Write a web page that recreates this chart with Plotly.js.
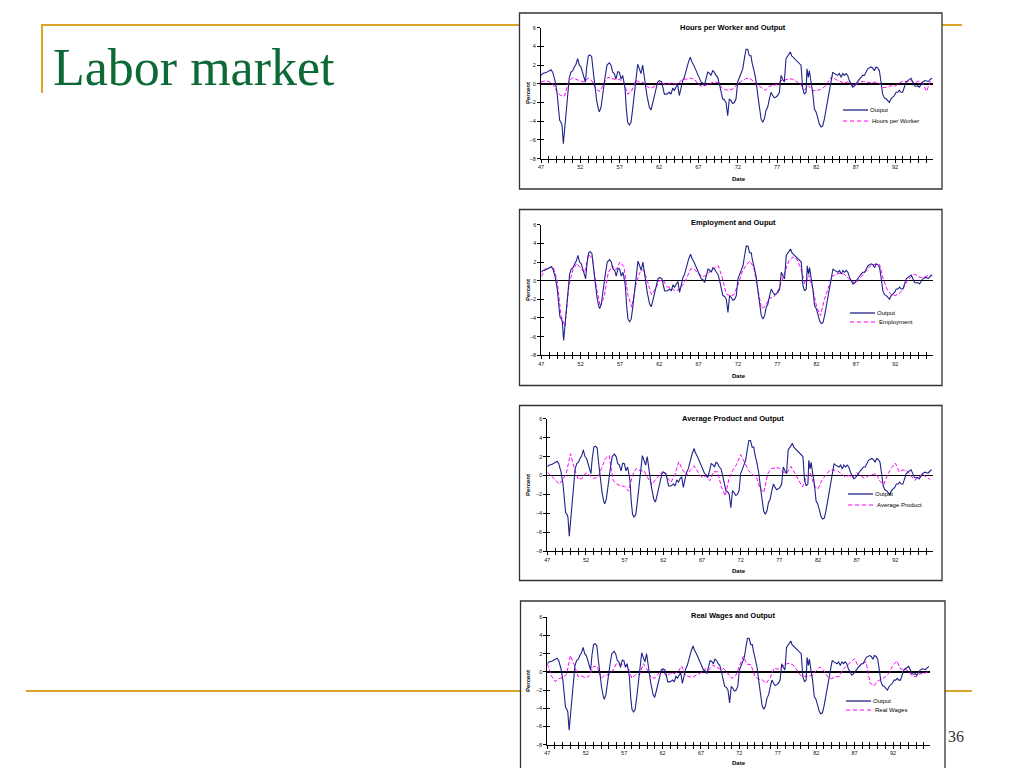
<!DOCTYPE html>
<html>
<head>
<meta charset="utf-8">
<script src="https://cdn.plot.ly/plotly-3.0.1.min.js"></script>
<style>
  html, body { margin: 0; padding: 0; background: #ffffff; }
  #chart { width: 1024px; height: 768px; }
</style>
</head>
<body>
<div id="chart"></div>
<script>
// ---------------- DATA ----------------
// Output: percent deviation from trend (shared by all four panels)
const outputYears = [1947.00,1947.21,1947.64,1948.06,1948.27,1948.48,1948.78,1949.03,1949.20,1949.37,1949.54,1949.67,1949.84,1950.05,1950.39,1950.60,1950.81,1951.03,1951.24,1951.45,1951.66,1951.87,1952.08,1952.30,1952.51,1952.64,1952.81,1953.02,1953.23,1953.44,1953.65,1953.86,1954.08,1954.29,1954.42,1954.63,1954.84,1955.14,1955.39,1955.69,1955.90,1956.11,1956.32,1956.53,1956.75,1956.96,1957.17,1957.38,1957.51,1957.68,1957.85,1958.02,1958.23,1958.44,1958.65,1958.86,1959.08,1959.29,1959.50,1959.71,1959.92,1960.05,1960.22,1960.47,1960.77,1960.98,1961.19,1961.41,1961.62,1961.83,1962.04,1962.34,1962.68,1962.97,1963.31,1963.53,1963.74,1963.95,1964.16,1964.37,1964.58,1964.80,1965.01,1965.22,1965.43,1965.73,1965.98,1966.15,1966.41,1966.70,1966.92,1967.13,1967.34,1967.55,1967.76,1967.97,1968.19,1968.40,1968.61,1968.82,1969.03,1969.25,1969.46,1969.67,1969.88,1970.09,1970.31,1970.52,1970.73,1970.94,1971.15,1971.36,1971.58,1971.79,1972.00,1972.21,1972.42,1972.64,1972.85,1973.06,1973.27,1973.48,1973.69,1973.82,1974.12,1974.33,1974.54,1974.75,1974.97,1975.18,1975.39,1975.60,1975.81,1976.03,1976.24,1976.45,1976.66,1976.87,1977.08,1977.30,1977.51,1977.72,1977.93,1978.14,1978.36,1978.57,1978.69,1978.86,1979.20,1979.42,1979.63,1979.84,1980.05,1980.26,1980.47,1980.69,1980.81,1980.98,1981.11,1981.32,1981.53,1981.75,1981.96,1982.17,1982.38,1982.59,1982.81,1983.02,1983.23,1983.44,1983.65,1983.86,1984.08,1984.29,1984.50,1984.71,1984.92,1985.14,1985.35,1985.56,1985.77,1985.98,1986.19,1986.41,1986.62,1986.83,1987.04,1987.25,1987.47,1987.68,1987.89,1988.10,1988.31,1988.53,1988.95,1989.16,1989.37,1989.58,1989.80,1990.01,1990.22,1990.43,1990.64,1990.86,1991.07,1991.28,1991.49,1991.70,1991.92,1992.13,1992.34,1992.55,1992.76,1992.97,1993.19,1993.40,1993.61,1993.82,1994.03,1994.25,1994.46,1994.67,1994.88,1995.09,1995.31,1995.52,1995.81,1996.24,1996.49,1996.70];
const outputValues = [0.9,1.1,1.2,1.4,1.5,1.25,0.35,-0.9,-2.5,-3.9,-4.1,-4.4,-6.4,-4.5,-1.25,0.7,1.25,1.4,1.8,2.1,2.7,2.0,1.8,1.25,0.5,0.2,1.8,3.0,3.1,2.9,1.25,-0.5,-1.8,-2.7,-3.0,-2.5,-0.9,0.7,2.0,2.25,2.0,1.25,1.1,0.5,1.3,1.25,0.5,0.9,0.35,-0.5,-2.7,-4.1,-4.4,-4.1,-2.7,-1.25,0.5,2.1,1.6,1.1,2.0,1.25,0,-1.25,-2.5,-2.8,-2.1,-1.25,-0.5,0.2,0.35,0.2,-1.1,-1.1,-0.9,-1.1,-0.45,-0.7,-0.35,-0.1,-1.25,-0.35,0.35,0.7,1.4,2.3,2.85,2.4,2.0,1.4,1.1,0.5,0.2,0.1,-0.2,0.5,1.25,1.15,0.9,1.4,1.25,0.9,0.7,0,-0.9,-1.6,-1.7,-2.0,-3.4,-1.6,-1.8,-2.1,-2.0,-1.6,0.2,0.7,1.1,1.6,2.7,3.7,3.7,3.0,3.0,2.3,1.25,0.35,-1.1,-2.5,-3.75,-4.1,-3.75,-2.85,-2.5,-1.6,-0.9,-1.25,-1.5,-1.4,-1.25,-0.9,0.9,0.5,0.2,2.7,3.0,3.2,3.4,3.0,2.7,2.5,2.3,2.1,2.0,-0.5,-1.1,-0.9,1.6,0.7,1.4,0.2,-0.9,-2.7,-3.0,-3.6,-4.3,-4.6,-4.5,-3.75,-2.7,-1.8,-0.7,0.5,1.25,1.1,1.0,0.9,1.1,0.7,1.1,0.9,1.1,0.9,0.35,0,-0.35,-0.25,0,0.35,0.5,0.7,0.9,0.9,1.25,1.6,1.8,1.7,1.4,1.8,1.7,1.4,0.2,-1.1,-1.5,-1.6,-1.8,-2.0,-1.6,-1.4,-1.25,-0.9,-0.9,-0.7,-0.9,-0.9,-0.35,0.2,0.35,0.5,0.6,0.2,-0.2,-0.25,-0.2,-0.35,0,0.2,0.35,0.25,0.5,0.6];

// Half-year dates for the comparison series
const halfYears = [1947.0,1947.5,1948.0,1948.5,1949.0,1949.5,1950.0,1950.5,1951.0,1951.5,1952.0,1952.5,1953.0,1953.5,1954.0,1954.5,1955.0,1955.5,1956.0,1956.5,1957.0,1957.5,1958.0,1958.5,1959.0,1959.5,1960.0,1960.5,1961.0,1961.5,1962.0,1962.5,1963.0,1963.5,1964.0,1964.5,1965.0,1965.5,1966.0,1966.5,1967.0,1967.5,1968.0,1968.5,1969.0,1969.5,1970.0,1970.5,1971.0,1971.5,1972.0,1972.5,1973.0,1973.5,1974.0,1974.5,1975.0,1975.5,1976.0,1976.5,1977.0,1977.5,1978.0,1978.5,1979.0,1979.5,1980.0,1980.5,1981.0,1981.5,1982.0,1982.5,1983.0,1983.5,1984.0,1984.5,1985.0,1985.5,1986.0,1986.5,1987.0,1987.5,1988.0,1988.5,1989.0,1989.5,1990.0,1990.5,1991.0,1991.5,1992.0,1992.5,1993.0,1993.5,1994.0,1994.5,1995.0,1995.5,1996.0,1996.5];

const hoursPerWorker = [0.2,0.3,0.25,0.0,-0.8,-1.25,-1.3,0.2,0.65,0.45,0.3,0.2,0.6,0.3,-0.6,-0.8,0.1,0.7,0.55,0.5,0.45,0.2,-1.1,-0.8,0.35,0.2,0.15,-0.3,-0.45,-0.25,0.1,0.05,-0.1,0.1,0.0,0.1,0.5,0.5,0.6,0.5,-0.05,-0.3,-0.1,0.05,0.2,0.15,-0.45,-0.65,-0.65,-0.5,0.0,0.25,0.55,0.6,0.25,0.0,-0.45,-0.7,-0.25,-0.2,-0.05,0.35,0.4,0.55,0.5,0.25,-0.05,-0.65,-0.2,-0.7,-0.75,-0.6,-0.35,0.2,0.8,0.45,0.25,0.1,0.2,-0.15,-0.1,0.2,0.25,0.2,0.1,0.2,0.05,-0.4,-0.35,-0.2,-0.25,0.05,0.3,0.2,0.35,0.1,0.3,0.1,-0.8,0.3];
const employment = [0.45,1.25,1.4,1.5,0.1,-3.7,-4.9,-0.6,1.15,1.85,1.35,0.85,2.8,2.4,-0.75,-2.8,-1.7,0.8,1.6,1.15,2.0,1.5,-1.5,-2.85,-0.5,0.85,1.15,-0.05,-1.5,-0.9,0.0,0.05,-0.65,-0.75,-1.1,-0.95,-0.45,0.3,1.3,1.2,0.7,0.45,0.55,1.05,1.35,1.6,0.35,-1.4,-1.65,-1.5,-0.45,0.85,1.6,2.1,1.45,-0.9,-3.0,-2.7,-1.85,-1.8,-1.25,-0.2,1.1,2.2,2.55,2.3,1.3,-0.35,0.6,-0.8,-2.8,-3.75,-2.0,-0.65,0.5,0.7,0.8,0.7,0.3,-0.1,-0.25,0.3,0.75,1.25,1.7,1.75,1.75,0.1,-1.0,-1.5,-1.6,-1.4,-0.85,-0.1,0.45,0.7,0.4,0.3,0.5,0.6];
const averageProduct = [0.35,0.0,-0.4,-0.9,-0.5,0.4,2.3,0.7,-0.4,-0.3,0.3,0.0,-0.3,-0.2,0.7,1.8,2.1,-0.5,-0.9,-1.1,-1.15,-1.65,0.0,0.75,0.5,0.5,-0.3,-1.0,-0.4,0.1,0.5,-0.2,-0.7,0.1,1.45,0.6,0.0,0.6,1.0,0.35,-0.2,-0.05,-0.55,0.4,0.4,-1.2,-2.15,-0.3,0.6,1.2,2.2,1.4,0.55,0.1,-0.1,-1.35,-1.8,0.2,0.75,0.8,0.8,0.35,0.3,0.95,0.2,-0.4,-1.2,-0.1,0.3,-1.1,-1.4,-0.5,0.0,0.55,0.6,0.5,0.2,-0.15,0.0,-0.2,0.3,0.0,-0.3,-0.05,0.05,0.2,-0.6,-0.95,0.1,0.8,1.3,0.4,0.6,0.5,0.0,-0.5,-0.2,0.2,-0.2,-0.4];
const realWages = [0.9,-0.4,-1.05,-0.75,-0.6,-0.3,1.8,0.8,-0.5,-0.45,-0.65,-0.4,0.6,0.6,-0.7,-0.35,-0.3,0.1,0.9,0.85,0.8,0.55,-0.7,-0.3,-0.3,0.9,0.25,-0.6,-0.7,-0.15,0.25,-0.5,-0.15,-0.2,0.0,0.65,-0.4,-0.55,-0.55,-0.3,-0.1,0.35,0.2,0.75,0.55,0.3,0.35,-0.2,-0.7,-0.45,0.7,1.7,0.85,0.8,-0.45,-0.8,-0.9,-1.25,-0.65,0.4,0.3,0.5,0.85,0.95,0.75,0.15,-0.4,-0.5,-0.45,-0.4,0.15,0.55,0.15,-0.55,-0.75,-0.55,-0.5,0.3,0.7,1.1,1.45,0.55,0.9,1.1,-1.2,-1.55,-1.0,-0.8,-0.55,-0.1,0.75,1.2,0.3,0.35,0.1,-0.45,-0.55,-0.2,-0.2,0.0];

const panelTitles = ["Hours per Worker and Output", "Employment and Ouput", "Average Product and Output", "Real Wages and Output"];
const seriesNames = ["Hours per Worker", "Employment", "Average Product", "Real Wages"];
const seriesValues = [hoursPerWorker, employment, averageProduct, realWages];
const outputName = "Output";
const yTickValues = [-8, -6, -4, -2, 0, 2, 4, 6];
const xLabelYears = [1947, 1952, 1957, 1962, 1967, 1972, 1977, 1982, 1987, 1992];

// ---------------- LAYOUT HELPERS ----------------
const W = 1024, H = 768;
const px = x => x / W;
const py = y => 1 - y / H;

// panel geometry in screen pixels
const panels = [
  { l: 541.0, r: 932.8, t: 27.7,  b: 158.7, box: [519.5, 13,    942, 189],   leg: [843, 110, 121], titleY: 27,  dateY: 179, pctY: 93 },
  { l: 541.3, r: 933.0, t: 224.7, b: 355.3, box: [519.5, 209.5, 942, 385.5], leg: [850, 313, 322], titleY: 223, dateY: 376, pctY: 290 },
  { l: 547.3, r: 932.5, t: 418.7, b: 551.3, box: [519.5, 405.5, 942, 580.5], leg: [848, 494, 505], titleY: 418, dateY: 571, pctY: 485 },
  { l: 547.3, r: 929.9, t: 617.3, b: 744.7, box: [520.5, 601,   945, 790],   leg: [846, 701, 710], titleY: 615, dateY: 763, pctY: 681 }
];

const tickYears = [];
for (let y = 1947; y <= 1996; y++) tickYears.push(y);
const tickText = tickYears.map(y => xLabelYears.includes(y) ? String(y).slice(2) : "");

const FONT = "Liberation Sans, Arial, sans-serif";
const OUT_COLOR = "#1f2388";
const MAG = "#ff00ff";

const layout = {
  width: W, height: H,
  margin: { l: 0, r: 0, t: 0, b: 0 },
  paper_bgcolor: "#ffffff",
  plot_bgcolor: "rgba(0,0,0,0)",
  showlegend: false,
  font: { family: FONT, color: "#000" },
  shapes: [],
  annotations: []
};

const GOLD = "#d9a62a";
// slide decorations
layout.shapes.push({ type: "line", xref: "paper", yref: "paper", x0: px(42), x1: px(962), y0: py(25), y1: py(25), line: { color: GOLD, width: 2 }, layer: "below" });
layout.shapes.push({ type: "line", xref: "paper", yref: "paper", x0: px(42), x1: px(42), y0: py(24), y1: py(93), line: { color: GOLD, width: 2 }, layer: "below" });
layout.shapes.push({ type: "line", xref: "paper", yref: "paper", x0: px(26), x1: px(972), y0: py(691), y1: py(691), line: { color: GOLD, width: 2 }, layer: "below" });

layout.annotations.push({
  xref: "paper", yref: "paper", x: px(51), y: py(68), xanchor: "left", yanchor: "middle",
  text: "Labor market", showarrow: false,
  font: { family: "Liberation Serif, Times New Roman, serif", size: 52, color: "#0d6a37" }
});
layout.annotations.push({
  xref: "paper", yref: "paper", x: px(946), y: py(736), xanchor: "left", yanchor: "middle",
  text: "36", showarrow: false,
  font: { family: "Liberation Serif, Times New Roman, serif", size: 16, color: "#333" }
});

const traces = [];

panels.forEach((p, i) => {
  const n = i + 1;
  const xa = "xaxis" + (n === 1 ? "" : n);
  const ya = "yaxis" + (n === 1 ? "" : n);
  const xo = "xaxis" + (n + 4);
  const yo = "yaxis" + (n + 4);
  const xid = "x" + (n === 1 ? "" : n);
  const yid = "y" + (n === 1 ? "" : n);
  const xoid = "x" + (n + 4);
  const yoid = "y" + (n + 4);

  // white box with frame
  layout.shapes.push({ type: "rect", xref: "paper", yref: "paper",
    x0: px(p.box[0]), x1: px(p.box[2]), y0: py(p.box[3]), y1: py(p.box[1]),
    fillcolor: "#ffffff", line: { color: "#333333", width: 1.3 }, layer: "below" });

  const xr = [1947, 1996.8];
  layout[xa] = {
    domain: [px(p.l), px(p.r)], range: xr, anchor: yid,
    showline: true, linecolor: "#000", linewidth: 1,
    ticks: "outside", ticklen: 3, tickwidth: 1, tickcolor: "#000",
    tickmode: "array", tickvals: tickYears, ticktext: tickText,
    tickfont: { family: FONT, size: 5.5, color: "#111" },
    showgrid: false, zeroline: false, fixedrange: true
  };
  layout[ya] = {
    domain: [py(p.b), py(p.t)], range: [-8, 6], anchor: xid,
    showline: true, linecolor: "#000", linewidth: 1,
    ticks: "outside", ticklen: 3, tickwidth: 1, tickcolor: "#000",
    tickmode: "array", tickvals: yTickValues,
    tickfont: { family: FONT, size: 5.5, color: "#111" },
    showgrid: false, zeroline: true, zerolinecolor: "#000", zerolinewidth: 1.6, fixedrange: true
  };
  // overlay axes: inner half of the crossing tick marks
  layout[xo] = {
    overlaying: xid, anchor: yid, side: "bottom", range: xr,
    showline: false, ticks: "inside", ticklen: 3, tickwidth: 1, tickcolor: "#000",
    tickmode: "array", tickvals: tickYears, showticklabels: false,
    showgrid: false, zeroline: false, fixedrange: true
  };
  layout[yo] = {
    overlaying: yid, anchor: xid, side: "left", range: [-8, 6],
    showline: false, ticks: "inside", ticklen: 3, tickwidth: 1, tickcolor: "#000",
    tickmode: "array", tickvals: yTickValues, showticklabels: false,
    showgrid: false, zeroline: false, fixedrange: true
  };

  // empty traces so the overlay axes get drawn
  traces.push({ type: "scatter", mode: "lines", x: [], y: [], xaxis: xoid, yaxis: yid, hoverinfo: "skip" });
  traces.push({ type: "scatter", mode: "lines", x: [], y: [], xaxis: xid, yaxis: yoid, hoverinfo: "skip" });

  traces.push({
    type: "scatter", mode: "lines", name: seriesNames[i],
    x: halfYears, y: seriesValues[i], xaxis: xid, yaxis: yid,
    line: { color: MAG, width: 1, dash: "4px,2px" }, hoverinfo: "skip"
  });
  traces.push({
    type: "scatter", mode: "lines", name: outputName,
    x: outputYears, y: outputValues, xaxis: xid, yaxis: yid,
    line: { color: OUT_COLOR, width: 1.1 }, hoverinfo: "skip"
  });

  // panel title, axis titles
  layout.annotations.push({ xref: "paper", yref: "paper", x: px(733), y: py(p.titleY), xanchor: "center", yanchor: "middle",
    text: "<b>" + panelTitles[i] + "</b>", showarrow: false, font: { family: FONT, size: 7.5, color: "#000" } });
  layout.annotations.push({ xref: "paper", yref: "paper", x: px(739), y: py(p.dateY), xanchor: "center", yanchor: "middle",
    text: "<b>Date</b>", showarrow: false, font: { family: FONT, size: 6, color: "#000" } });
  layout.annotations.push({ xref: "paper", yref: "paper", x: px(528), y: py(p.pctY), xanchor: "center", yanchor: "middle",
    text: "<b>Percent</b>", textangle: -90, showarrow: false, font: { family: FONT, size: 6, color: "#000" } });

  // legend (drawn as shapes + text)
  const lx = p.leg[0];
  layout.shapes.push({ type: "line", xref: "paper", yref: "paper", x0: px(lx), x1: px(lx + 25), y0: py(p.leg[1]), y1: py(p.leg[1]),
    line: { color: OUT_COLOR, width: 1.3 } });
  layout.shapes.push({ type: "line", xref: "paper", yref: "paper", x0: px(lx), x1: px(lx + 25), y0: py(p.leg[2]), y1: py(p.leg[2]),
    line: { color: MAG, width: 1.1, dash: "4px,3px" } });
  layout.annotations.push({ xref: "paper", yref: "paper", x: px(lx + 25), y: py(p.leg[1]), xanchor: "left", yanchor: "middle",
    text: outputName, showarrow: false, font: { family: FONT, size: 6, color: "#000" } });
  layout.annotations.push({ xref: "paper", yref: "paper", x: px(lx + 27), y: py(p.leg[2]), xanchor: "left", yanchor: "middle",
    text: seriesNames[i], showarrow: false, font: { family: FONT, size: 6, color: "#000" } });
});

Plotly.newPlot("chart", traces, layout, { staticPlot: true, displayModeBar: false });
</script>
</body>
</html>
